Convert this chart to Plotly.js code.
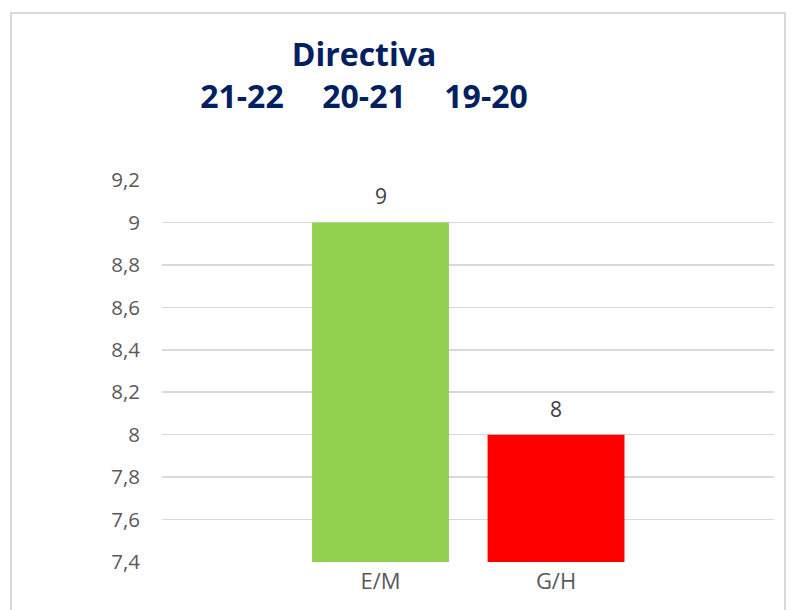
<!DOCTYPE html>
<html>
<head>
<meta charset="utf-8">
<script src="https://cdn.plot.ly/plotly-3.0.1.min.js"></script>
<style>
  html, body { margin: 0; padding: 0; background: #fff; }
  #wrap { position: relative; width: 796px; height: 610px; }
  #chart { width: 796px; height: 610px; }
  #border { position: absolute; left: 10px; top: 12px; width: 776px; height: 620px;
            border: 2px solid #d9d9d9; pointer-events: none; box-sizing: border-box; }
</style>
</head>
<body>
<div id="wrap">
  <div id="chart"></div>
  <div id="border"></div>
</div>
<script>
const categories = ["E/M", "G/H"];
const values = [9, 8];
const barColors = ["#92d050", "#ff0000"];
const yTicks = [7.4, 7.6, 7.8, 8, 8.2, 8.4, 8.6, 8.8, 9, 9.2];
const titleLine1 = "Directiva";
const titleLine2 = ["21-22", "20-21", "19-20"];

const gap = "\u00A0\u00A0\u00A0\u00A0\u2009";
const trace = {
  type: "bar",
  x: categories,
  y: values,
  marker: { color: barColors },
  width: 0.78,
  hoverinfo: "none"
};

const labelAnnotations = categories.map((c, i) => ({
  x: c, y: values[i], xref: "x", yref: "y",
  text: String(values[i]), showarrow: false,
  yanchor: "bottom", yshift: 10,
  font: { family: "Open Sans, sans-serif", size: 21, color: "#404040" }
}));

const layout = {
  width: 796, height: 610,
  margin: { l: 162, r: 22, t: 180, b: 48 },
  paper_bgcolor: "#fff", plot_bgcolor: "#fff",
  separators: ", ",
  showlegend: false,
  title: {
    text: "<b>" + titleLine1 + "</b><br><b>" + titleLine2.join(gap) + "</b>",
    font: { family: "Open Sans, sans-serif", size: 32, color: "#002060" },
    x: 364 / 796, xanchor: "center", xref: "container",
    y: 1 - 66 / 610, yanchor: "top", yref: "container"
  },
  annotations: labelAnnotations,
  xaxis: {
    type: "category",
    range: [-1.245, 2.242],
    showgrid: false, zeroline: false, showline: false,
    ticks: "",
    tickfont: { family: "Open Sans, sans-serif", size: 22, color: "#595959" },
    ticklabelstandoff: 4
  },
  yaxis: {
    range: [7.4, 9.2],
    tickmode: "array",
    tickvals: yTicks,
    ticktext: yTicks.map(v => String(v).replace(".", ",")),
    showgrid: true, gridcolor: "#d9d9d9", gridwidth: 1.5,
    zeroline: false, showline: false, ticks: "",
    tickfont: { family: "Open Sans, sans-serif", size: 20.5, color: "#595959" },
    ticklabelstandoff: 21
  }
};

Plotly.newPlot("chart", [trace], layout, { staticPlot: true, displayModeBar: false });
</script>
</body>
</html>
